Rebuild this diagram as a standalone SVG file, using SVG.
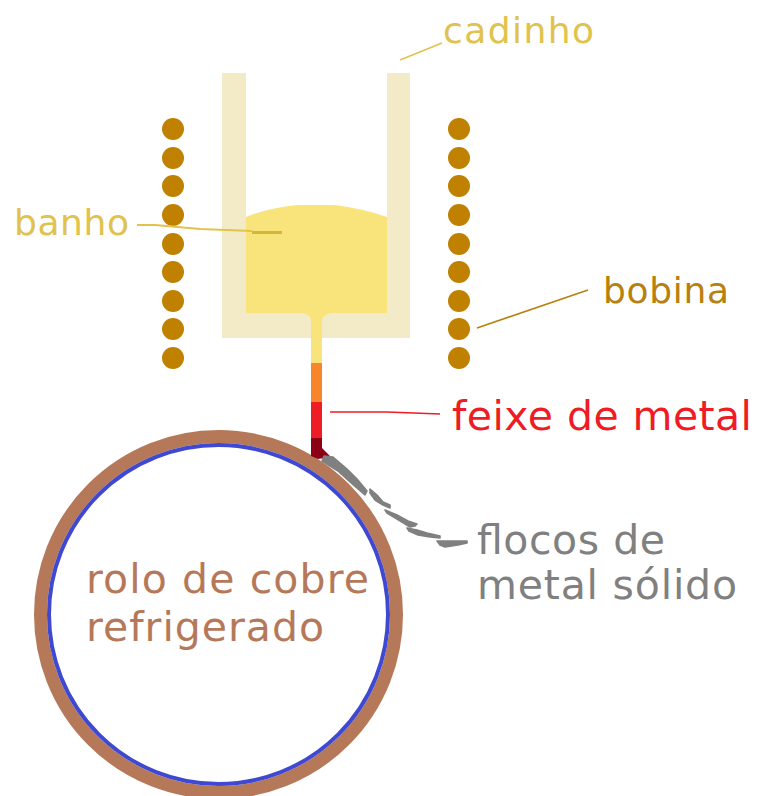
<svg xmlns="http://www.w3.org/2000/svg" width="757" height="796" viewBox="0 0 757 796">
<style>
  text { font-family: "DejaVu Sans", Verdana, sans-serif; }
  .small { font-size: 36px; }
  .big { font-size: 41px; }
  .coil { fill: #c08000; }
  .flake { fill: #808080; stroke: #808080; stroke-width: 1.6; stroke-linejoin: round; }
</style>
<rect x="0" y="0" width="757" height="796" fill="#ffffff"/>

<g id="wheel">
  <circle cx="218.5" cy="614.5" r="178" fill="#ffffff" stroke="#b5795a" stroke-width="13"/>
  <circle cx="218.5" cy="614.5" r="169.5" fill="none" stroke="#3e48d0" stroke-width="4"/>
  <text class="big" x="86" y="593" fill="#b5795a" textLength="283" lengthAdjust="spacing">rolo de cobre</text>
  <text class="big" x="86" y="641" fill="#b5795a" textLength="238" lengthAdjust="spacing">refrigerado</text>
</g>

<g id="crucible">
  <path d="M222 73 H246 V313 H387 V73 H410 V338 H222 Z" fill="#f3ebc8"/>
  <text class="small" x="443" y="43" fill="#e0c24c" textLength="151" lengthAdjust="spacing">cadinho</text>
</g>

<g id="melt">
  <path d="M246 217 Q268 208 297 205 L335 205 Q365 209 387 217 V313 H331 Q322 315 322 320 V338 H311 V320 Q311 315 302 313 H246 Z" fill="#f8e47a"/>
  <text class="small" x="14" y="235" fill="#e0c24c" textLength="115" lengthAdjust="spacing">banho</text>
</g>

<g id="coil">
  <g class="coil">
    <circle cx="173" cy="129" r="11"/><circle cx="173" cy="158" r="11"/><circle cx="173" cy="186" r="11"/>
    <circle cx="173" cy="215" r="11"/><circle cx="173" cy="244" r="11"/><circle cx="173" cy="272" r="11"/>
    <circle cx="173" cy="301" r="11"/><circle cx="173" cy="329" r="11"/><circle cx="173" cy="358" r="11"/>
    <circle cx="459" cy="129" r="11"/><circle cx="459" cy="158" r="11"/><circle cx="459" cy="186" r="11"/>
    <circle cx="459" cy="215" r="11"/><circle cx="459" cy="244" r="11"/><circle cx="459" cy="272" r="11"/>
    <circle cx="459" cy="301" r="11"/><circle cx="459" cy="329" r="11"/><circle cx="459" cy="358" r="11"/>
  </g>
  <text class="small" x="603" y="303" fill="#b8800f" textLength="126" lengthAdjust="spacing">bobina</text>
</g>

<g id="stream">
  <rect x="311" y="338" width="11" height="25" fill="#f8e47a"/>
  <rect x="311" y="363" width="11" height="39" fill="#f7862a"/>
  <rect x="311" y="402" width="11" height="37" fill="#ee1c24"/>
  <path d="M311 438 H322 V448 L331 457 L318 459 L311 456 Z" fill="#8b0015"/>
  <text class="big" x="452" y="430" fill="#ee1c24" textLength="300" lengthAdjust="spacing">feixe de metal</text>
</g>

<g id="flakes">
  <path class="flake" d="M324 456 L333 457 L347 469 L357 479 L367 491 L365 495 L350 482 L338 471 L322 461 Z"/>
  <path class="flake" d="M370 489 L377 495 L383 502 L390 505 L390 508 L383 505 L375 500 L370 493 Z"/>
  <path class="flake" d="M385 510 L397 515 L408 521 L417 524 L415 526 L410 527 L397 519 L387 513 Z"/>
  <path class="flake" d="M407 528 L417 530 L427 533 L440 536 L440 538 L430 537 L418 535 L409 531 Z"/>
  <path class="flake" d="M437 541 L467 541 L467 543 L458 545 L445 547 L440 545 Z"/>
  <text class="big" x="477" y="554" fill="#808080" textLength="188" lengthAdjust="spacing">flocos de</text>
  <text class="big" x="477" y="599" fill="#808080" textLength="260" lengthAdjust="spacing">metal sólido</text>
</g>

<g id="connectors" fill="none">
  <line x1="400" y1="60" x2="442" y2="43" stroke="#e0c24c" stroke-width="1.6"/>
  <path d="M137 225 H155 L200 229 L252 231" stroke="#e0c24c" stroke-width="2"/>
  <line x1="252" y1="232.5" x2="282" y2="232.5" stroke="#d4b63a" stroke-width="3"/>
  <line x1="477" y1="328" x2="588" y2="290" stroke="#b8800f" stroke-width="1.6"/>
  <path d="M330 412 H387 L440 414" stroke="#ee1c24" stroke-width="1.6"/>
</g>
</svg>
